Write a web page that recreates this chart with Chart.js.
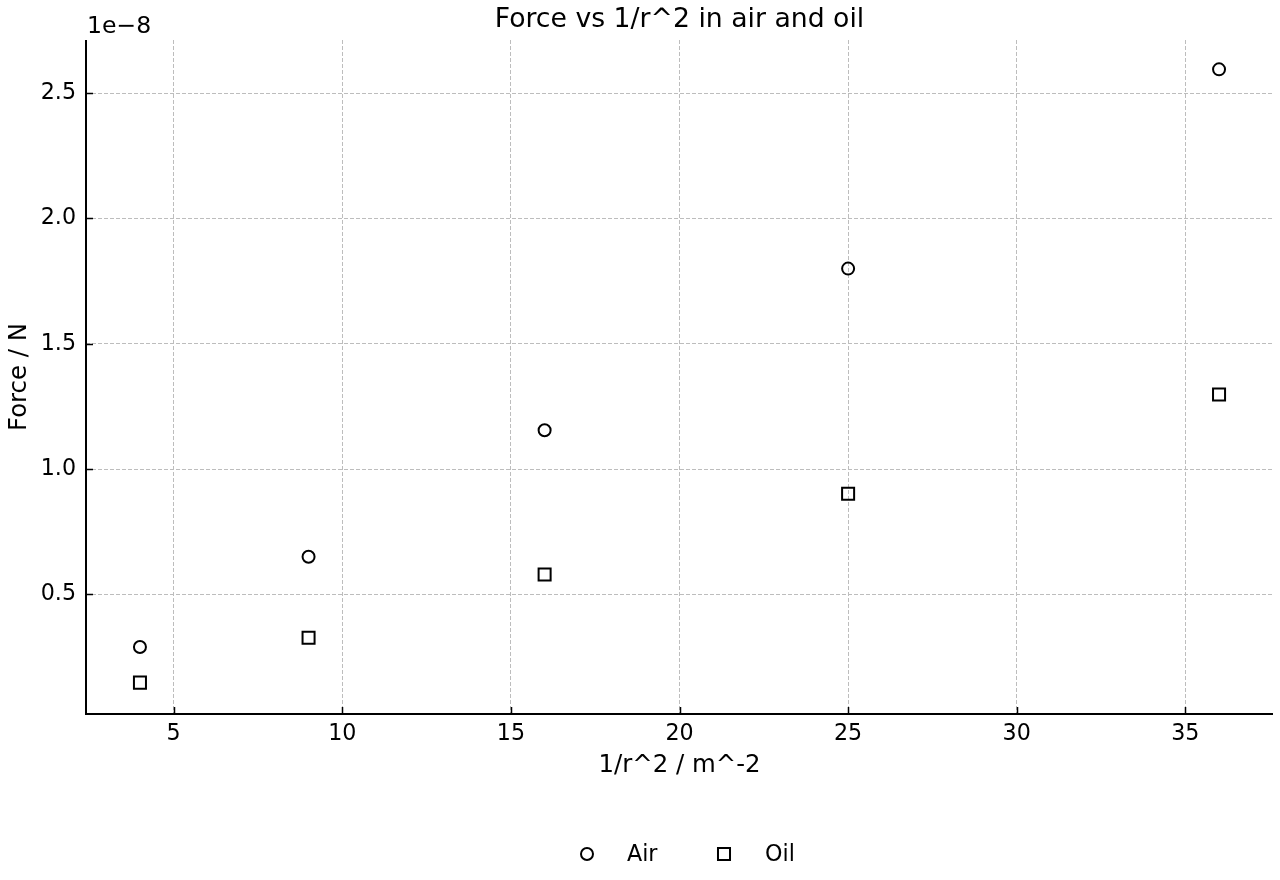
<!DOCTYPE html>
<html>
<head>
<meta charset="utf-8">
<title>Force vs 1/r^2 in air and oil</title>
<script src="https://cdn.jsdelivr.net/npm/chart.js@4.4.1/dist/chart.umd.min.js"></script>
<style>
  html, body { margin: 0; padding: 0; background: #fff; }
  canvas { display: block; }
</style>
</head>
<body>
<canvas id="forceChart" width="1280" height="880"></canvas>
<script>
// data
const invRSquared = [4, 9, 16, 25, 36];
const airForce = [0.29e-8, 0.65e-8, 1.155e-8, 1.80e-8, 2.595e-8];
const oilForce = [0.148e-8, 0.327e-8, 0.579e-8, 0.902e-8, 1.298e-8];
const xTicks = [5, 10, 15, 20, 25, 30, 35];
const yTicks = [0.5, 1.0, 1.5, 2.0, 2.5];
const yScaleExp = 1e-8;

const FONT = 'DejaVu Sans';

function toPoints(ys) {
    return invRSquared.map((x, i) => ({ x: x, y: ys[i] }));
}

// title, offset text, spines, inward ticks and legend, drawn like matplotlib
const mplDecor = {
    id: 'mplDecor',
    afterDraw(chart) {
        const ctx = chart.ctx;
        const area = chart.chartArea;
        const xs = chart.scales.x;
        const ys = chart.scales.y;
        ctx.save();

        // spines (left and bottom only)
        ctx.strokeStyle = '#000';
        ctx.lineWidth = 2;
        ctx.beginPath();
        ctx.moveTo(area.left, area.top);
        ctx.lineTo(area.left, area.bottom);
        ctx.lineTo(area.right, area.bottom);
        ctx.stroke();

        // inward ticks
        ctx.lineWidth = 1.5;
        ctx.beginPath();
        xTicks.forEach(v => {
            const px = Math.round(xs.getPixelForValue(v)) + 0.5;
            ctx.moveTo(px, area.bottom);
            ctx.lineTo(px, area.bottom - 7);
        });
        yTicks.forEach(v => {
            const py = Math.round(ys.getPixelForValue(v * yScaleExp)) + 0.5;
            ctx.moveTo(area.left, py);
            ctx.lineTo(area.left + 7, py);
        });
        ctx.stroke();

        // title
        ctx.fillStyle = '#000';
        ctx.textAlign = 'center';
        ctx.textBaseline = 'alphabetic';
        ctx.font = '26.7px "' + FONT + '"';
        ctx.fillText('Force vs 1/r^2 in air and oil', (area.left + area.right) / 2, 27);

        // offset text
        ctx.textAlign = 'left';
        ctx.font = '23.6px "' + FONT + '"';
        ctx.fillText('1e\u22128', area.left + 1, 33);

        // legend
        const legendY = 854;
        const items = [
            { ds: chart.data.datasets[0], mx: 587, tx: 627 },
            { ds: chart.data.datasets[1], mx: 724, tx: 765 }
        ];
        ctx.font = '22.2px "' + FONT + '"';
        ctx.textBaseline = 'middle';
        items.forEach(it => {
            ctx.strokeStyle = it.ds.borderColor;
            ctx.fillStyle = 'rgba(0,0,0,0)';
            ctx.lineWidth = it.ds.borderWidth;
            Chart.helpers.drawPoint(ctx, {
                pointStyle: it.ds.pointStyle,
                radius: it.ds.pointRadius,
                borderWidth: it.ds.borderWidth,
                rotation: 0
            }, it.mx, legendY);
            ctx.fillStyle = '#000';
            ctx.fillText(it.ds.label, it.tx, legendY + 1);
        });

        ctx.restore();
    }
};

const gridStyle = { color: '#bdbdbd', lineWidth: 1, drawTicks: false };

const chart = new Chart(document.getElementById('forceChart').getContext('2d'), {
    type: 'scatter',
    data: {
        datasets: [{
            label: 'Air',
            data: toPoints(airForce),
            pointStyle: 'circle',
            pointRadius: 6,
            pointHoverRadius: 6,
            borderWidth: 2,
            borderColor: '#000',
            backgroundColor: 'rgba(0,0,0,0)'
        }, {
            label: 'Oil',
            data: toPoints(oilForce),
            pointStyle: 'rect',
            pointRadius: 8.5,
            pointHoverRadius: 8.5,
            borderWidth: 2,
            borderColor: '#000',
            backgroundColor: 'rgba(0,0,0,0)'
        }]
    },
    options: {
        responsive: false,
        animation: false,
        devicePixelRatio: 1,
        events: [],
        layout: {
            autoPadding: false, // otherwise the marker size pads the plot area
            padding: { left: 0, top: 40, right: 7, bottom: 100 }
        },
        plugins: {
            legend: { display: false },
            title: { display: false },
            tooltip: { enabled: false }
        },
        scales: {
            x: {
                type: 'linear',
                position: 'bottom',
                min: 2.4,
                max: 37.6,
                afterBuildTicks: s => { s.ticks = xTicks.map(v => ({ value: v })); },
                afterFit: s => { s.height = 66; s.paddingLeft = 0; s.paddingRight = 0; },
                grid: gridStyle,
                border: { display: false, dash: [4, 2] },
                ticks: {
                    color: '#000',
                    font: { family: FONT, size: 22.2 },
                    padding: 7,
                    maxRotation: 0,
                    autoSkip: false
                },
                title: {
                    display: true,
                    text: '1/r^2 / m^-2',
                    color: '#000',
                    font: { family: FONT, size: 24.4 },
                    padding: { top: 0, bottom: 0 }
                }
            },
            y: {
                type: 'linear',
                position: 'left',
                min: 0.0228e-8,
                max: 2.7122e-8,
                afterBuildTicks: s => { s.ticks = yTicks.map(v => ({ value: v * yScaleExp })); },
                afterFit: s => { s.width = 86; s.paddingTop = 0; s.paddingBottom = 0; },
                grid: gridStyle,
                border: { display: false, dash: [4, 2] },
                ticks: {
                    color: '#000',
                    font: { family: FONT, size: 22.2 },
                    padding: 10,
                    callback: v => (v / yScaleExp).toFixed(1)
                },
                title: {
                    display: true,
                    text: 'Force / N',
                    color: '#000',
                    font: { family: FONT, size: 24.4 },
                    padding: { top: 5.5, bottom: 0 }
                }
            }
        }
    },
    plugins: [mplDecor]
});
</script>
</body>
</html>
